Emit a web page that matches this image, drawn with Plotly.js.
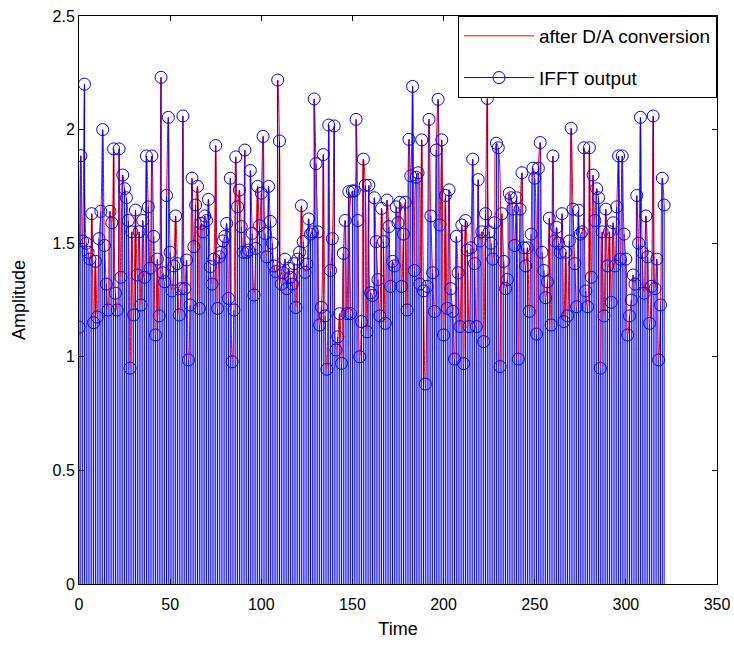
<!DOCTYPE html>
<html>
<head>
<meta charset="utf-8">
<script src="https://cdn.plot.ly/plotly-3.0.1.min.js"></script>
<style>html,body{margin:0;padding:0;background:#fff;}#chart{width:734px;height:646px;}</style>
</head>
<body>
<div id="chart"></div>
<script>
// IFFT output sample values, sample index starts at 0
const ifftOutput = [
  // 0-27
  1.13, 1.885, 1.51, 2.20, 1.50, 1.46, 1.43, 1.63, 1.15, 1.42, 1.175, 1.52, 1.64, 2.00, 1.49, 1.32, 1.206, 1.64, 1.59, 1.915, 1.28, 1.206, 1.915, 1.35, 1.80, 1.74, 1.70, 1.60,
  // 28-53
  0.95, 1.55, 1.184, 1.646, 1.36, 1.55, 1.228, 1.60, 1.35, 1.884, 1.66, 1.39, 1.884, 1.53, 1.096, 1.43, 1.18, 2.23, 1.37, 1.33, 1.71, 2.054, 1.46, 1.29, 1.40, 1.62,
  // 54-81
  1.41, 1.184, 1.30, 2.06, 1.30, 1.426, 0.986, 1.228, 1.786, 1.485, 1.668, 1.75, 1.213, 1.587, 1.55, 1.62, 1.60, 1.693, 1.397, 1.32, 1.43, 1.93, 1.213, 1.44, 1.46, 1.51, 1.53, 1.587,
  // 82-111
  1.257, 1.786, 0.978, 1.206, 1.88, 1.66, 1.734, 1.573, 1.46, 1.91, 1.46, 1.47, 1.82, 1.543, 1.272, 1.477, 1.75, 1.577, 1.72, 1.97, 1.543, 1.44, 1.75, 1.596, 1.50, 1.40, 1.375, 2.218, 1.95, 1.32,
  // 112-137
  1.37, 1.43, 1.30, 1.39, 1.35, 1.32, 1.41, 1.217, 1.43, 1.46, 1.665, 1.507, 1.372, 1.408, 1.607, 1.54, 1.55, 2.135, 1.85, 1.55, 1.14, 1.218, 1.89, 1.18, 0.945, 2.02,
  // 138-162
  1.38, 1.52, 2.016, 1.03, 1.088, 1.19, 0.971, 1.455, 1.60, 1.19, 1.727, 1.19, 1.73, 1.73, 2.045, 1.60, 1.00, 1.155, 1.87, 1.755, 1.11, 1.755, 1.282, 1.27, 1.70,
  // 163-189
  1.507, 1.34, 1.18, 1.653, 1.507, 1.147, 1.69, 1.573, 1.31, 1.42, 1.40, 1.66, 1.59, 1.68, 1.31, 1.54, 1.68, 1.206, 1.957, 1.796, 2.19, 1.38, 1.79, 1.81, 1.32, 1.955, 1.29,
  // 190-219
  0.88, 1.31, 2.045, 1.62, 1.37, 1.199, 1.91, 2.133, 1.58, 1.955, 1.096, 1.71, 1.213, 1.735, 1.30, 1.20, 0.99, 1.53, 1.37, 1.133, 1.58, 0.97, 1.60, 1.47, 1.133, 1.48, 1.87, 1.41, 1.133, 1.78,
  // 220-245
  1.51, 1.55, 1.067, 1.63, 2.137, 1.55, 1.50, 1.43, 1.59, 1.94, 1.92, 0.957, 1.63, 1.42, 1.30, 1.34, 1.72, 1.70, 1.65, 1.49, 1.70, 0.99, 1.65, 1.81, 1.48, 1.40,
  // 246-271
  1.48, 1.20, 1.54, 1.83, 1.786, 1.10, 1.83, 1.943, 1.46, 1.38, 1.26, 1.33, 1.61, 1.14, 1.884, 1.51, 1.57, 1.50, 1.46, 1.63, 1.155, 1.46, 1.18, 1.51, 2.006, 1.65,
  // 272-298
  1.41, 1.22, 1.645, 1.54, 1.55, 1.92, 1.29, 1.22, 1.92, 1.35, 1.80, 1.60, 1.74, 1.70, 0.95, 1.55, 1.18, 1.65, 1.40, 1.55, 1.24, 1.59, 1.40, 1.66, 1.884, 1.43, 1.884,
  // 299-321
  1.54, 1.43, 1.096, 1.18, 1.25, 1.36, 1.32, 1.71, 1.50, 2.054, 1.46, 1.28, 1.62, 1.44, 1.147, 1.31, 2.06, 1.30, 1.43, 0.986, 1.228, 1.786, 1.668
];
const sampleIndex = ifftOutput.map((_, i) => i);

const xTicks = [0, 50, 100, 150, 200, 250, 300, 350];
const yTicks = [0, 0.5, 1, 1.5, 2, 2.5];
const seriesNames = ["after D/A conversion", "IFFT output"];

// stems: vertical segments from 0 to each sample value
const stemX = [], stemY = [];
sampleIndex.forEach((x, i) => { stemX.push(x, x, null); stemY.push(0, ifftOutput[i], null); });
// isolated points (separated by gaps) so the legend shows line + circle
const markX = [], markY = [];
sampleIndex.forEach((x, i) => { markX.push(x, null); markY.push(ifftOutput[i], null); });

const traces = [
  {
    x: sampleIndex, y: ifftOutput, type: 'scatter', mode: 'lines',
    name: seriesNames[0], legendgroup: 'a',
    line: {color: '#ff0000', width: 1, shape: 'spline', smoothing: 1.3}
  },
  {
    x: stemX, y: stemY, type: 'scatter', mode: 'lines', legendgroup: 'b',
    line: {color: '#0000ff', width: 1}, showlegend: false, hoverinfo: 'skip'
  },
  {
    x: markX, y: markY, type: 'scatter', mode: 'lines+markers', connectgaps: false,
    name: seriesNames[1], legendgroup: 'b',
    line: {color: '#0000ff', width: 1},
    marker: {symbol: 'circle-open', size: 12, color: '#0000ff', line: {width: 1, color: '#0000ff'}}
  }
];

const axisCommon = {
  showgrid: false, zeroline: false, showline: true, mirror: 'ticks',
  linecolor: '#000', linewidth: 1, ticks: 'inside', ticklen: 5, tickcolor: '#000',
  tickfont: {family: 'Liberation Sans, Arial, sans-serif', size: 16, color: '#000'}
};

const layout = {
  width: 734, height: 646,
  margin: {l: 79, r: 17, t: 16, b: 62},
  paper_bgcolor: '#fff', plot_bgcolor: '#fff',
  font: {family: 'Liberation Sans, Arial, sans-serif', color: '#000'},
  showlegend: true,
  legend: {
    x: 1, y: 1, xanchor: 'right', yanchor: 'top',
    bgcolor: '#fff', bordercolor: '#000', borderwidth: 1,
    font: {family: 'Liberation Sans, Arial, sans-serif', size: 19, color: '#000'},
    itemwidth: 70, tracegroupgap: 14
  },
  xaxis: Object.assign({}, axisCommon, {
    range: [0, 350], tickvals: xTicks, ticktext: xTicks.map(String),
    ticklabelstandoff: 6,
    title: {text: 'Time', font: {size: 18}, standoff: 10}
  }),
  yaxis: Object.assign({}, axisCommon, {
    range: [0, 2.5], tickvals: yTicks, ticktext: yTicks.map(String),
    title: {text: 'Amplitude', font: {size: 18}, standoff: 22}
  })
};

Plotly.newPlot('chart', traces, layout, {staticPlot: true, displayModeBar: false});
</script>
</body>
</html>
